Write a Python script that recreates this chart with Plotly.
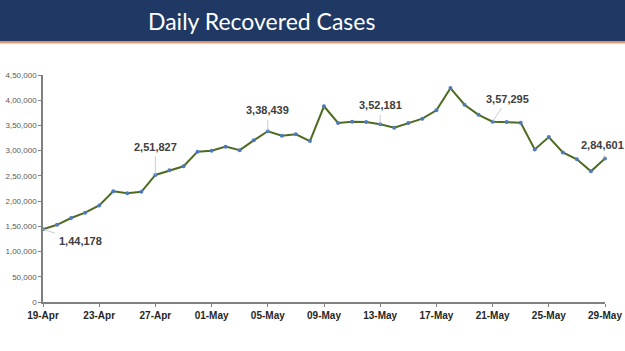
import pandas as pd
import plotly.graph_objects as go

dates = pd.date_range("2020-04-19", "2020-05-29", freq="D")
recovered = [144178, 153000, 166500, 177000, 191500, 219500, 215500, 218500, 251827, 261000,
             269000, 298000, 300000, 308000, 301000, 320500, 338439, 329500, 332500, 319000,
             388000, 355000, 357500, 357000, 352181, 345500, 355000, 363500, 380000, 424000,
             391000, 371000, 357295, 357000, 355500, 302500, 327000, 296500, 283000, 259000, 284601]

tick_dates = ["2020-04-19", "2020-04-23", "2020-04-27", "2020-05-01", "2020-05-05", "2020-05-09",
              "2020-05-13", "2020-05-17", "2020-05-21", "2020-05-25", "2020-05-29"]
tick_labels = ["19-Apr", "23-Apr", "27-Apr", "01-May", "05-May", "09-May",
               "13-May", "17-May", "21-May", "25-May", "29-May"]
y_vals = [0, 50000, 100000, 150000, 200000, 250000, 300000, 350000, 400000, 450000]
y_labels = ["0", "50,000", "1,00,000", "1,50,000", "2,00,000", "2,50,000",
            "3,00,000", "3,50,000", "4,00,000", "4,50,000"]

# labelled points: (date, text, ax, ay)
labels = [("2020-04-19", "1,44,178", 37, 12),
          ("2020-04-27", "2,51,827", 0, -28),
          ("2020-05-05", "3,38,439", 0, -21),
          ("2020-05-13", "3,52,181", 0, -19),
          ("2020-05-21", "3,57,295", 15, -23),
          ("2020-05-29", "2,84,601", -3, -13)]

PLOT_TOP, PLOT_BOTTOM = 75, 302
PH = PLOT_BOTTOM - PLOT_TOP


def py(pixel_y):
    return (PLOT_BOTTOM - pixel_y) / PH


fig = go.Figure()
fig.add_trace(go.Scatter(
    x=dates, y=recovered, mode="lines+markers",
    line=dict(color="#4F6B22", width=2),
    marker=dict(color="#4F7BBE", size=4),
    hoverinfo="skip", showlegend=False, cliponaxis=False))

val_by_date = {d.strftime("%Y-%m-%d"): v for d, v in zip(dates, recovered)}
for d, t, ax, ay in labels:
    fig.add_annotation(x=d, y=val_by_date[d], text="<b>" + t + "</b>",
                       showarrow=True, arrowhead=0, arrowwidth=0.8, arrowcolor="#BFBFBF",
                       ax=ax, ay=ay, font=dict(family="Liberation Sans", size=11, color="#404040"),
                       standoff=0, startstandoff=2)

# banner
fig.add_shape(type="rect", xref="paper", yref="paper", x0=-1, x1=2, y0=py(41.5), y1=py(-20),
              fillcolor="#1F3864", line=dict(width=0), layer="below")
fig.add_shape(type="rect", xref="paper", yref="paper", x0=-1, x1=2, y0=py(43.5), y1=py(41.5),
              fillcolor="#E39A72", line=dict(width=0), layer="below")
fig.add_annotation(xref="paper", yref="paper", x=(261 - 43) / 562, y=py(20.5),
                   yanchor="middle", showarrow=False, text="Daily Recovered Cases",
                   font=dict(family="Lato", size=23, color="white"))

fig.update_layout(
    width=625, height=351,
    margin=dict(l=43, r=20, t=PLOT_TOP, b=351 - PLOT_BOTTOM, autoexpand=False),
    paper_bgcolor="white", plot_bgcolor="white",
    xaxis=dict(range=["2020-04-19", "2020-05-29"], tickvals=tick_dates,
               ticktext=["<b>" + s + "</b>" for s in tick_labels],
               showgrid=False, zeroline=False, showline=True, linecolor="#808080", linewidth=1.5,
               ticks="outside", ticklen=3, tickcolor="#808080",
               tickfont=dict(family="Liberation Sans", size=10, color="#262626"),
               fixedrange=True, automargin=False),
    yaxis=dict(range=[0, 450000], tickvals=y_vals, ticktext=y_labels,
               showgrid=False, zeroline=False, showline=True, linecolor="#808080", linewidth=1.5,
               ticks="outside", ticklen=3, tickcolor="#808080",
               tickfont=dict(family="Liberation Sans", size=8, color="#595959"),
               fixedrange=True, automargin=False),
)
fig.write_html("out.html")
